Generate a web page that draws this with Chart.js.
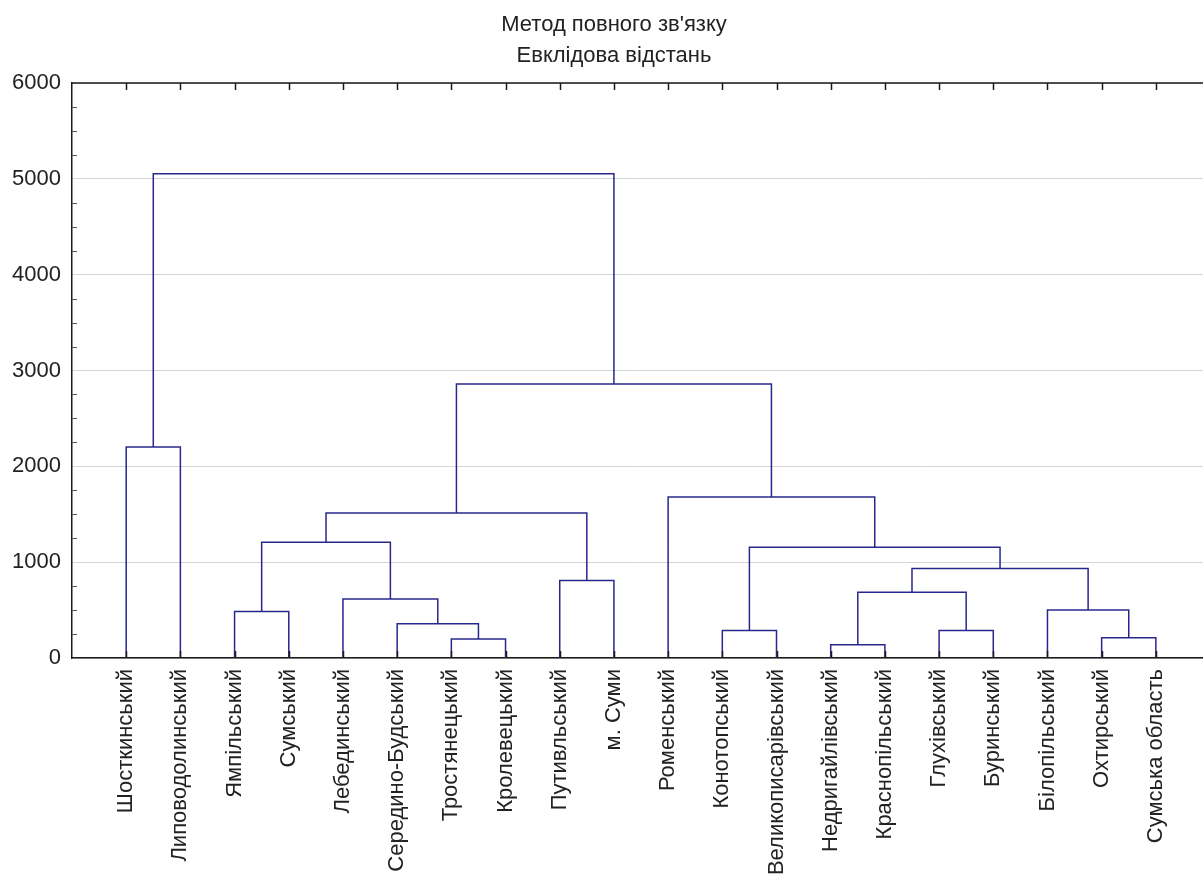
<!DOCTYPE html>
<html>
<head>
<meta charset="utf-8">
<script src="https://cdn.jsdelivr.net/npm/chart.js@4"></script>
<style>
  body { margin: 0; background: #fff; }
  #wrap { width: 1203px; height: 876px; }
</style>
</head>
<body>
<div id="wrap"><canvas id="dendro" width="1203" height="876"></canvas></div>
<script>
// Leaves in dendrogram order
const leafNames = [
  'Шосткинський', 'Липоводолинський', 'Ямпільський', 'Сумський', 'Лебединський',
  'Середино-Будський', 'Тростянецький', 'Кролевецький', 'Путивльський', 'м. Суми',
  'Роменський', 'Конотопський', 'Великописарівський', 'Недригайлівський', 'Краснопільський',
  'Глухівський', 'Буринський', 'Білопільський', 'Охтирський', 'Сумська область'
];

// Linkage: node 20 + k joins mergeLeft[k] and mergeRight[k] at mergeHeight[k]
const mergeLeft   = [13, 6, 18, 11, 15, 5, 2, 17, 4, 20, 8, 29, 23, 26, 33, 10, 0, 34, 36];
const mergeRight  = [14, 7, 19, 12, 16, 21, 3, 22, 25, 24, 9, 27, 31, 28, 30, 32, 1, 35, 37];
const mergeHeight = [139, 198, 212, 288, 288, 358, 486, 501, 616, 685, 810, 935, 1155, 1207, 1513, 1681, 2202, 2860, 5052];

const yTicks = [0, 1000, 2000, 3000, 4000, 5000, 6000];
const titleLines = ['Метод повного зв\'язку', 'Евклідова відстань'];

const lineColor = '#28288c';
const fontFamily = '"Liberation Sans", Arial, sans-serif';

// node positions: leaves at 1..n, merged nodes in the middle of their children
const nodeX = leafNames.map((_, i) => i + 1);
const nodeH = leafNames.map(() => 0);
const datasets = [];
mergeLeft.forEach((a, k) => {
    const b = mergeRight[k];
    const h = mergeHeight[k];
    datasets.push({
        data: [
            { x: nodeX[a], y: nodeH[a] },
            { x: nodeX[a], y: h },
            { x: nodeX[b], y: h },
            { x: nodeX[b], y: nodeH[b] }
        ],
        showLine: true,
        borderColor: lineColor,
        borderWidth: 1.5,
        pointRadius: 0,
        tension: 0
    });
    nodeX.push((nodeX[a] + nodeX[b]) / 2);
    nodeH.push(h);
});

// frame, inward ticks and two-line title
const framePlugin = {
    id: 'frame',
    afterDraw(chart) {
        const { ctx, chartArea: area, scales } = chart;
        ctx.save();
        ctx.strokeStyle = '#1a1a1a';
        ctx.lineWidth = 1.5;
        ctx.beginPath();
        ctx.moveTo(area.left, area.top);
        ctx.lineTo(area.right, area.top);
        leafNames.forEach((_, i) => {
            const px = Math.round(scales.x.getPixelForValue(i + 1)) + 0.5;
            ctx.moveTo(px, area.top);
            ctx.lineTo(px, area.top + 7);
            ctx.moveTo(px, area.bottom);
            ctx.lineTo(px, area.bottom - 7);
        });
        ctx.stroke();

        ctx.lineWidth = 1;
        ctx.strokeStyle = '#555';
        ctx.beginPath();
        for (let v = 250; v < 6000; v += 250) {
            if (v % 1000 === 0) continue;
            const py = Math.round(scales.y.getPixelForValue(v)) + 0.5;
            ctx.moveTo(area.left, py);
            ctx.lineTo(area.left + 5, py);
        }
        ctx.stroke();

        ctx.fillStyle = '#222';
        ctx.font = '22px ' + fontFamily;
        ctx.textAlign = 'center';
        ctx.textBaseline = 'middle';
        ctx.fillText(titleLines[0], 614, 25);
        ctx.fillText(titleLines[1], 614, 56);
        ctx.restore();
    }
};

new Chart(document.getElementById('dendro'), {
    type: 'scatter',
    data: { datasets: datasets },
    options: {
        responsive: false,
        animation: false,
        layout: { padding: { top: 83, right: 0, left: 0, bottom: 0 } },
        plugins: {
            legend: { display: false },
            tooltip: { enabled: false },
            title: { display: false }
        },
        scales: {
            x: {
                type: 'linear',
                min: 0,
                max: 20.87,
                afterBuildTicks: scale => {
                    scale.ticks = leafNames.map((_, i) => ({ value: i + 1 }));
                },
                afterFit: scale => { scale.height = 218; },
                grid: { display: false, drawTicks: false },
                border: { color: '#1a1a1a', width: 1.5 },
                ticks: {
                    autoSkip: false,
                    minRotation: 90,
                    maxRotation: 90,
                    padding: 11,
                    color: '#222',
                    font: { family: fontFamily, size: 22 },
                    callback: v => leafNames[v - 1]
                }
            },
            y: {
                min: 0,
                max: 6000,
                afterBuildTicks: scale => {
                    scale.ticks = yTicks.map(v => ({ value: v }));
                },
                afterFit: scale => { scale.width = 72; },
                grid: { color: '#d6d6d6', lineWidth: 1, drawTicks: false },
                border: { color: '#1a1a1a', width: 1.5 },
                ticks: {
                    padding: 11,
                    color: '#222',
                    font: { family: fontFamily, size: 22 },
                    callback: v => String(v)
                }
            }
        }
    },
    plugins: [framePlugin]
});
</script>
</body>
</html>
